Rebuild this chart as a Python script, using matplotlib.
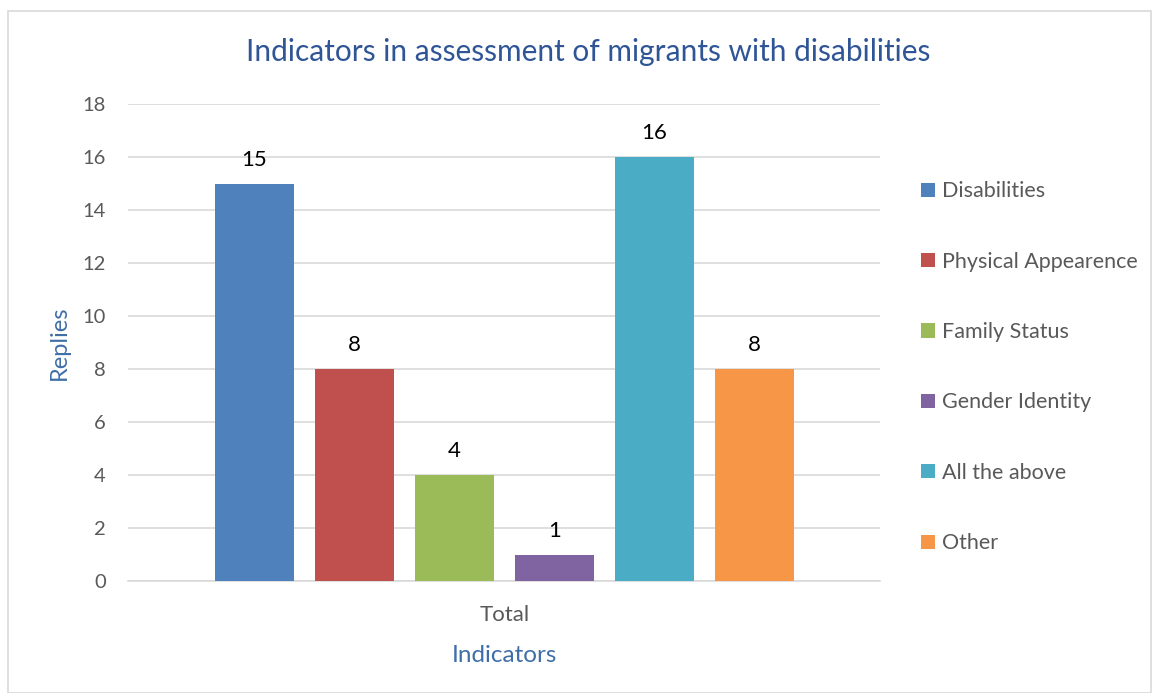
import numpy as np
import matplotlib

matplotlib.use("Agg")

import matplotlib.pyplot as plt  # isort: skip
from matplotlib.patches import Rectangle  # isort: skip

categories = ["Disabilities", "Physical Appearence", "Family Status",
              "Gender Identity", "All the above", "Other"]
replies = [15, 8, 4, 1, 16, 8]
colors = ["#4F81BD", "#C0504D", "#9BBB59", "#8064A2", "#4BACC6", "#F79646"]
group_label = "Total"
yticks = list(range(0, 19, 2))

plt.rcParams["font.family"] = ["Lato", "DejaVu Sans"]

W, H = 1154, 693
fig = plt.figure(figsize=(W / 100, H / 100), dpi=100)
ax = fig.add_axes([128 / W, (H - 581) / H, (880 - 128) / W, (581 - 104) / H])

# outer chart border
fig.patches.append(Rectangle((8 / W, 0.5 / H), (W - 11) / W, (H - 11.5) / H,
                             transform=fig.transFigure, fill=False,
                             edgecolor="#D9D9D9", linewidth=1.2))

x = np.arange(len(categories))
for i, (cat, val, col) in enumerate(zip(categories, replies, colors)):
    bars = ax.bar(x[i], val, width=0.79, color=col, label=cat, zorder=3)
    ax.bar_label(bars, padding=10, fontsize=16, color="black")

ax.set_xlim(-1.265, 6.255)
ax.set_ylim(0, 18)
ax.set_yticks(yticks)
ax.set_xticks([x.mean()])
ax.set_xticklabels([group_label])
ax.tick_params(axis="both", length=0, colors="#595959")
ax.tick_params(axis="y", pad=16, labelsize=14.5)
ax.tick_params(axis="x", pad=17, labelsize=16)
ax.grid(axis="y", color="#D9D9D9", linewidth=1.2, zorder=0)
for side in ["top", "right", "left"]:
    ax.spines[side].set_visible(False)
ax.spines["bottom"].set_color("#D9D9D9")
ax.spines["bottom"].set_linewidth(1.2)

ax.set_ylabel("Replies", fontsize=17, color="#3F6FA8", labelpad=9)
ax.set_xlabel("Indicators", fontsize=17.5, color="#3F6FA8", labelpad=15)
fig.text(588 / W, 1 - 52 / H, "Indicators in assessment of migrants with disabilities",
         ha="center", va="center", fontsize=21.5, color="#2F5597")

fig.legend(loc="upper left", bbox_to_anchor=(902 / W, 1 - 162 / H), frameon=False,
           fontsize=15.5, labelcolor="#595959", handlelength=0.65, handleheight=0.65,
           handletextpad=0.3, labelspacing=2.34)

fig.savefig("out.png", dpi=100)
